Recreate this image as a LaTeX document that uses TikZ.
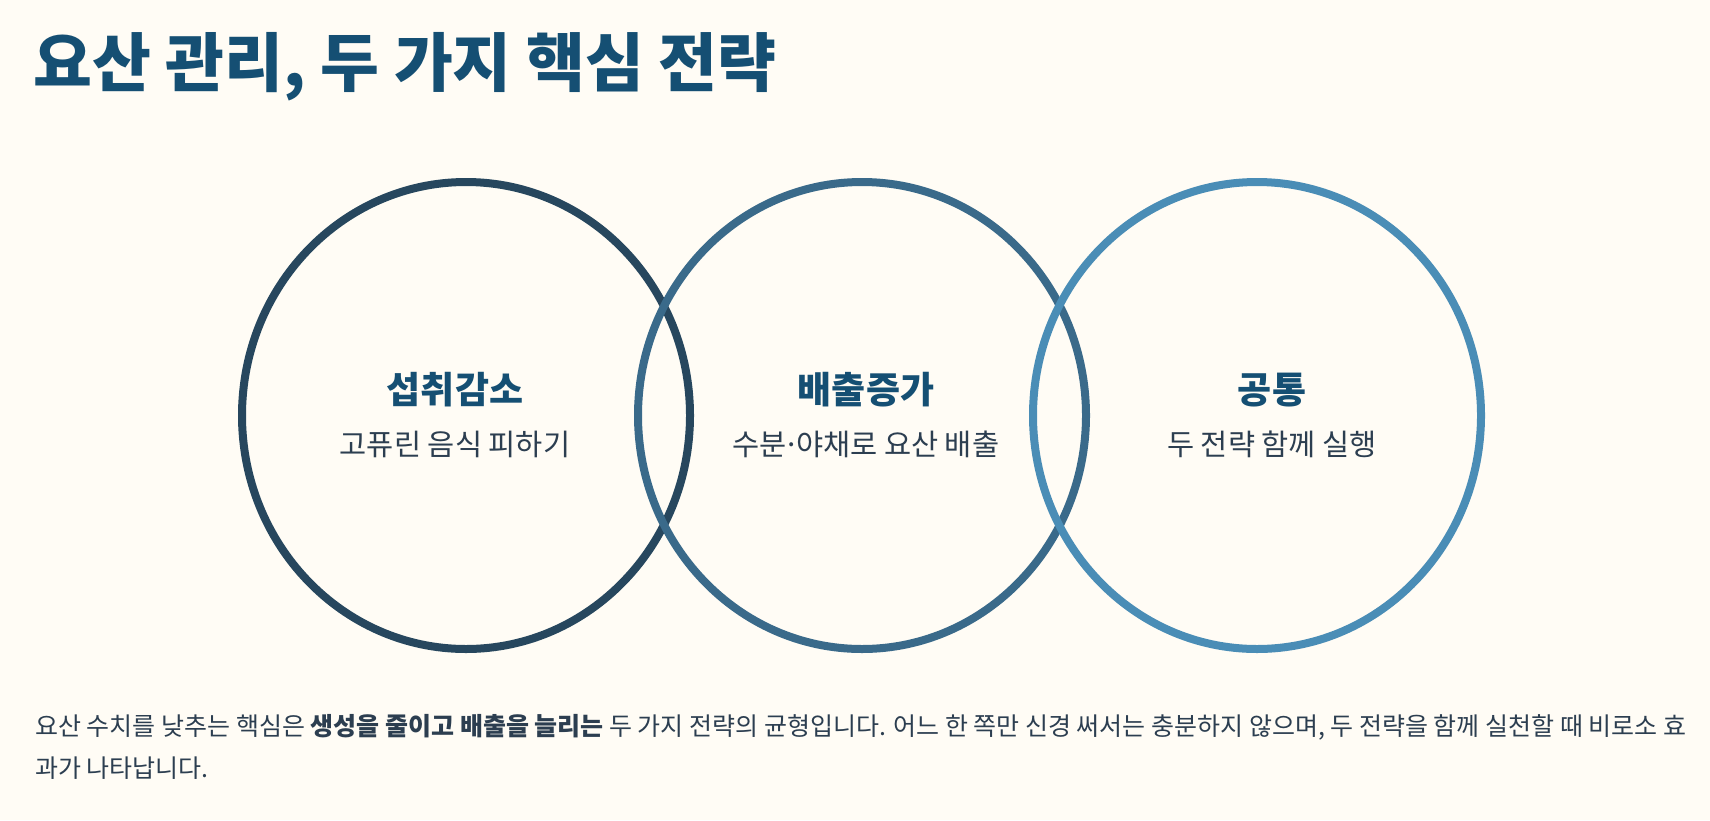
\documentclass[tikz,border=0pt]{standalone}
\usepackage{fontspec}
\setmainfont{Noto Sans CJK KR}
\definecolor{bgc}{HTML}{FFFCF5}
\definecolor{titlec}{HTML}{154F73}
\definecolor{textc}{HTML}{2C3E50}
\definecolor{cA}{HTML}{27475E}
\definecolor{cB}{HTML}{3A6A8A}
\definecolor{cC}{HTML}{4A8DB6}
\newcommand{\middot}{\makebox[0.3em][c]{·}}
\begin{document}
\begin{tikzpicture}[x=1pt,y=-1pt,
  ring/.style={line width=8pt},
  head/.style={anchor=base,inner sep=0pt,text=titlec,font=\fontsize{37}{44}\selectfont\bfseries},
  sub/.style={anchor=base,inner sep=0pt,text=textc,font=\fontsize{29.5}{34}\selectfont},
  body/.style={anchor=base west,inner sep=0pt,text=textc,font=\fontsize{25}{32}\selectfont}]
\fill[bgc] (0,0) rectangle (1710,820);
\useasboundingbox (0,0) rectangle (1710,820);
\node[anchor=base west,inner sep=0pt,text=titlec,font=\fontsize{64}{74}\selectfont\bfseries] (title) at (33,86) {요산 관리, 두 가지 핵심 전략};
\draw[ring,cA] (466,415.5) ellipse [x radius=224, y radius=233.5];
\draw[ring,cB] (862,415.5) ellipse [x radius=224, y radius=233.5];
\draw[ring,cC] (1257,415.5) ellipse [x radius=224, y radius=233.5];
\node[head] (h1) at (455,403) {섭취감소};
\node[sub] (s1) at (455,455) {고퓨린 음식 피하기};
\node[head] (h2) at (866,403) {배출증가};
\node[sub] (s2) at (866,455) {수분\middot 야채로 요산 배출};
\node[head] (h3) at (1272,403) {공통};
\node[sub] (s3) at (1272,455) {두 전략 함께 실행};
\node[body] (b1) at (35,735) {요산 수치를 낮추는 핵심은 \textbf{생성을 줄이고 배출을 늘리는} 두 가지 전략의 균형입니다. 어느 한 쪽만 신경 써서는 충분하지 않으며, 두 전략을 함께 실천할 때 비로소 효};
\node[body] (b2) at (35,777) {과가 나타납니다.};
\end{tikzpicture}
\end{document}
